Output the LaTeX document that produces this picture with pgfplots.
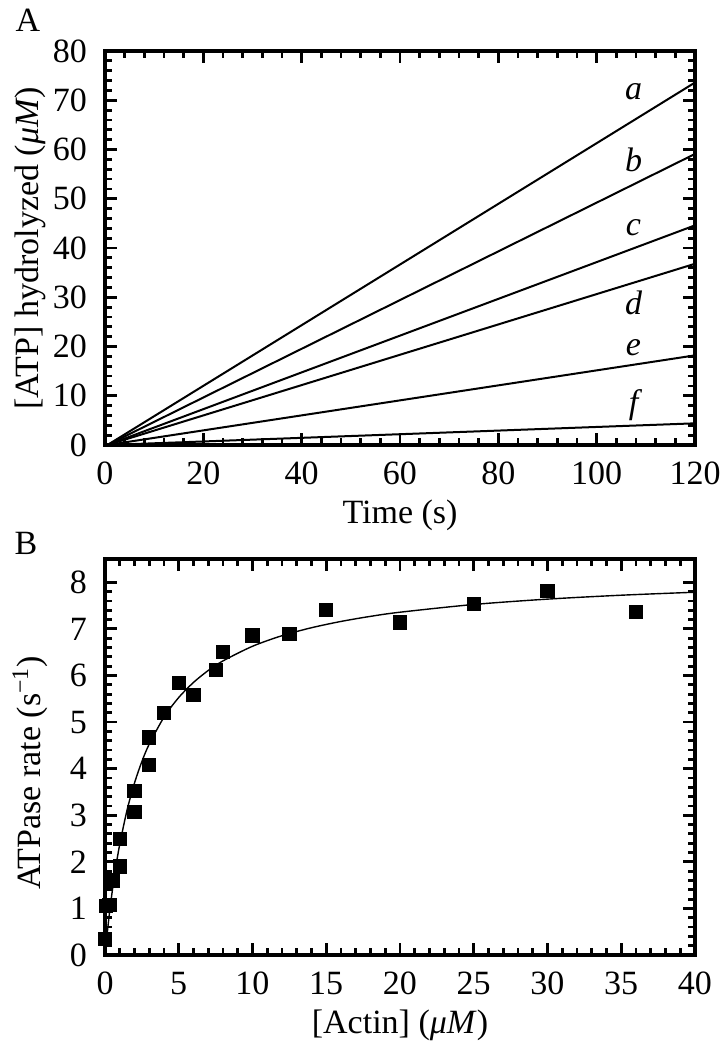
\documentclass[border=0pt]{standalone}
\usepackage{fontspec}
\setmainfont{Liberation Serif}
\usepackage{pgfplots}
\pgfplotsset{compat=1.18}
\begin{document}
\begin{tikzpicture}
\pgfplotsset{
  panel/.style={
    scale only axis,
    width=295pt,
    axis line style={line width=2pt},
    every tick/.style={line width=1.4pt, black},
    major tick length=6pt,
    minor tick length=3.5pt,
    tick pos=both,
    tick align=inside,
    minor tick num=4,
    /pgf/number format/assume math mode=true,
    tick label style={font=\fontsize{17}{20}\selectfont},
    xticklabel style={yshift=-5pt},
    yticklabel style={xshift=-5.5pt},
    label style={font=\fontsize{17}{20}\selectfont},
    xlabel style={at={(axis description cs:0.5,-0.178)}, anchor=center},
    ylabel style={at={(axis description cs:-0.127,0.5)}, anchor=center, rotate=0},
  }
}
\path[use as bounding box] (0,0) rectangle (360pt,-525pt);
\node[font=\fontsize{17}{20}\selectfont, anchor=center] at (14pt,-10pt) {A};
\node[font=\fontsize{17}{20}\selectfont, anchor=center] at (13pt,-271.5pt) {B};

\begin{axis}[panel,
  at={(52.5pt,-25.5pt)}, anchor=north west,
  height=197pt,
  xmin=0, xmax=120, ymin=0, ymax=80,
  xtick={0,20,...,120}, ytick={0,10,...,80},
  xlabel={Time (s)},
  ylabel={[ATP] hydrolyzed (\textit{μM})},
]
\addplot[black, line width=1pt] coordinates {(0.5,0) (120,73.6)};
\addplot[black, line width=1pt] coordinates {(0.5,0) (120,59.1)};
\addplot[black, line width=1pt] coordinates {(0.5,0) (120,44.6)};
\addplot[black, line width=1pt] coordinates {(0.5,0) (120,36.8)};
\addplot[black, line width=1pt] coordinates {(0.5,0) (120,18.2)};
\addplot[black, line width=1pt] coordinates {(0.5,0) (120,4.4)};
\node[font=\fontsize{17}{20}\selectfont\itshape] at (axis cs:107.5,71.7) {a};
\node[font=\fontsize{17}{20}\selectfont\itshape] at (axis cs:107.5,57.9) {b};
\node[font=\fontsize{17}{20}\selectfont\itshape] at (axis cs:107.5,44.1) {c};
\node[font=\fontsize{17}{20}\selectfont\itshape] at (axis cs:107.5,28.8) {d};
\node[font=\fontsize{17}{20}\selectfont\itshape] at (axis cs:107.5,19.7) {e};
\node[font=\fontsize{17}{20}\selectfont\itshape] at (axis cs:107.5,8.1) {f};
\end{axis}

\begin{axis}[panel,
  at={(52.5pt,-279.5pt)}, anchor=north west,
  height=198pt,
  xmin=0, xmax=40, ymin=0, ymax=8.5,
  xtick={0,5,...,40}, ytick={0,1,...,8},
  xlabel={[Actin] (\textit{μM})},
  ylabel={ATPase rate (s\textsuperscript{−1})},
  ylabel style={at={(axis description cs:-0.127,0.46)}},
  clip=false,
]
\addplot[black, line width=0.7pt, smooth] coordinates {
(0,0) (0.25,0.757) (0.5,1.388) (0.75,1.920) (1,2.376) (1.5,3.117) (2,3.692)
(2.5,4.152) (3,4.527) (4,5.105) (5,5.528) (6,5.851) (7,6.107) (8,6.313)
(10,6.627) (12,6.854) (14,7.025) (16,7.160) (18,7.269) (20,7.358)
(25,7.524) (30,7.639) (35,7.723) (40,7.787)};
\addplot[only marks, mark=square*, mark size=3.3pt, black] coordinates {
(0,0.35) (0.05,1.05) (0.3,1.08) (0.55,1.6) (1.0,1.9) (1.0,2.5)
(2.0,3.08) (2.0,3.52) (3.0,4.08) (3.0,4.67) (4.0,5.2) (5.0,5.84)
(6.0,5.58) (7.5,6.12) (8.0,6.51) (10.0,6.86) (12.5,6.9) (15.0,7.4)
(20.0,7.14) (25.0,7.54) (30.0,7.82) (36.0,7.37)};
\end{axis}
\end{tikzpicture}
\end{document}
